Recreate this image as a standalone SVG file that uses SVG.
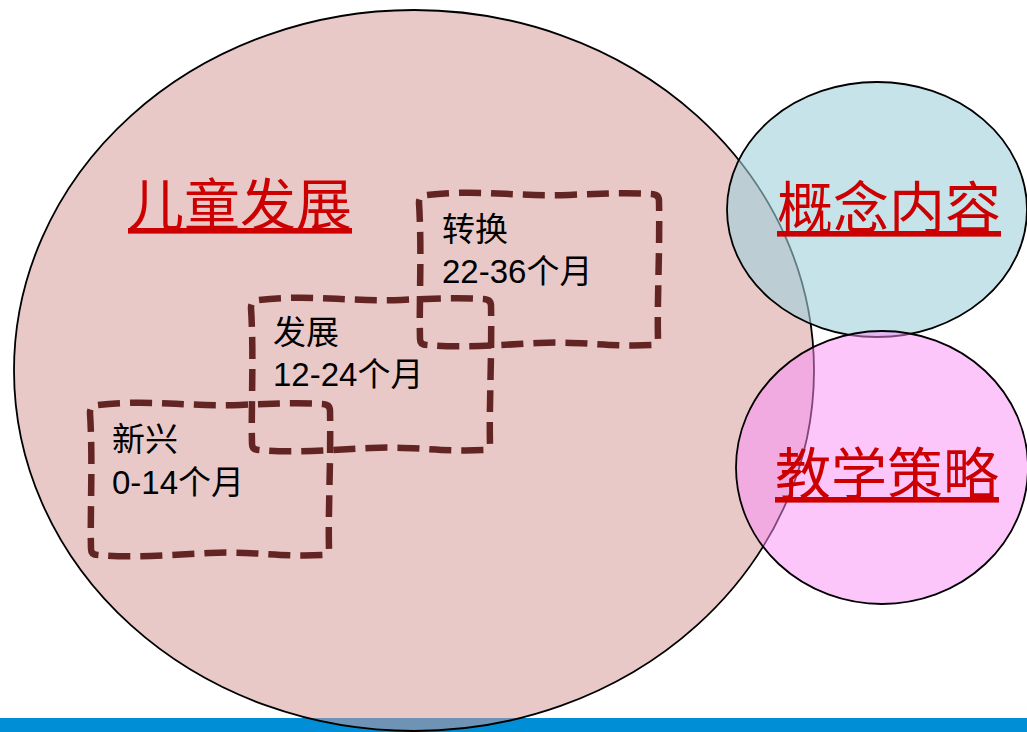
<svg xmlns="http://www.w3.org/2000/svg" width="1027" height="732" viewBox="0 0 1027 732">
  <style>
    .box { fill: none; stroke: #632523; stroke-width: 6.5; stroke-dasharray: 22 10; stroke-linejoin: round; }
    .lbl { font-family: "Liberation Sans", "Noto Sans CJK SC", sans-serif; font-size: 33px; fill: #000000; }
    .title { font-family: "Liberation Serif", "Noto Sans CJK SC", serif; font-size: 56px; fill: #cc0000; text-decoration: underline; }
  </style>
  <defs>
    <path id="wave" d="M 8,4 C 60,-2 100,6 150,4 C 190,2 215,2 232,3 Q 240,3 240,10 C 241,60 238,110 239,148 Q 239,154 232,154 C 190,156 160,150 120,152 C 80,154 40,157 8,154 Q 1,154 1,148 C 0,110 3,60 0,12 Q 0,4 8,4 Z"/>
  </defs>
  <rect id="bottom-bar" x="0" y="718" width="1027" height="14" fill="#008fd6"/>
  <g id="child-development">
    <ellipse cx="414" cy="370.5" rx="400" ry="360.5" fill="#d59795" fill-opacity="0.52" stroke="#000000" stroke-width="1.8"/>
    <text class="title" x="128" y="225">儿童发展</text>
  </g>
  <g id="stage-emerging">
    <use href="#wave" class="box" transform="translate(90,401)"/>
    <text class="lbl" x="112" y="451">新兴</text>
    <text class="lbl" x="112" y="494">0-14个月</text>
  </g>
  <g id="stage-developing">
    <use href="#wave" class="box" transform="translate(251,296)"/>
    <text class="lbl" x="273" y="344">发展</text>
    <text class="lbl" x="273" y="386">12-24个月</text>
  </g>
  <g id="stage-transition">
    <use href="#wave" class="box" transform="translate(419,191)"/>
    <text class="lbl" x="442" y="241">转换</text>
    <text class="lbl" x="442" y="283">22-36个月</text>
  </g>
  <g id="concept-content">
    <ellipse cx="877" cy="209.5" rx="150" ry="127.5" fill="#a0d0dc" fill-opacity="0.6" stroke="#000000" stroke-width="1.8"/>
    <text class="title" x="777" y="228">概念内容</text>
  </g>
  <g id="teaching-strategy">
    <ellipse cx="882" cy="467.5" rx="146" ry="136.5" fill="#fb8df7" fill-opacity="0.5" stroke="#000000" stroke-width="1.8"/>
    <text class="title" x="775" y="494">教学策略</text>
  </g>
</svg>
